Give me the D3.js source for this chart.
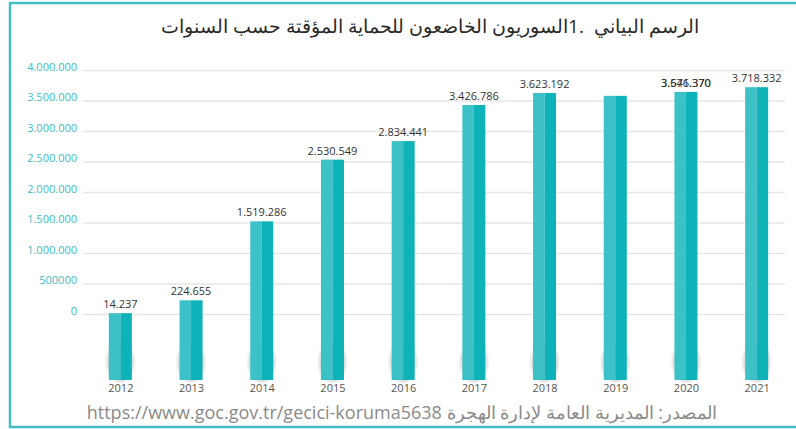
<!DOCTYPE html>
<html>
<head>
<meta charset="utf-8">
<script src="https://cdn.jsdelivr.net/npm/d3@7"></script>
<style>
  body { margin: 0; background: #fff; }
  svg { display: block; font-family: 'Open Sans', sans-serif; }
</style>
</head>
<body>
<div id="chart-area"></div>
<script>
var years = ['2012', '2013', '2014', '2015', '2016', '2017', '2018', '2019', '2020', '2021']
var values = [14237, 224655, 1519286, 2530549, 2834441, 3426786, 3623192, 3576370, 3641370, 3718332]
var valueLabels = ['14.237', '224.655', '1.519.286', '2.530.549', '2.834.441', '3.426.786', '3.623.192', '3.576.370', '3.641.370', '3.718.332']
// the 2019 label sits on top of the 2020 one in the source picture
var labelAnchor = ['2012', '2013', '2014', '2015', '2016', '2017', '2018', '2020', '2020', '2021']
var yTicks = [0, 500000, 1000000, 1500000, 2000000, 2500000, 3000000, 3500000, 4000000]
var yTickLabels = ['0', '500000', '1.000.000', '1.500.000', '2.000.000', '2.500.000', '3.000.000', '3.500.000', '4.000.000']

var title = 'الرسم البياني  .1السوريون الخاضعون للحماية المؤقتة حسب السنوات'
var source = 'المصدر: المديرية العامة لإدارة الهجرة https://www.goc.gov.tr/gecici-koruma5638'

var W = 796, H = 429
var barW = 23
var barBottom = 380

var svg = d3.select('#chart-area').append('svg')
    .attr('width', W)
    .attr('height', H)

var defs = svg.append('defs')
defs.append('filter').attr('id', 'blur')
    .attr('x', '-50%').attr('y', '-50%').attr('width', '200%').attr('height', '200%')
  .append('feGaussianBlur').attr('stdDeviation', 1.8)

// frame
svg.append('rect')
    .attr('x', 10).attr('y', 3)
    .attr('width', W + 20).attr('height', 424)
    .attr('fill', 'none')
    .attr('stroke', '#45bec3')
    .attr('stroke-width', 2.5)

var x = d3.scalePoint().domain(years).range([85, 792]).padding(0.5)
var y = d3.scaleLinear().domain([0, 4000000]).range([314, 70])

// grid + y labels
var yAxis = d3.axisLeft(y).tickValues(yTicks).tickSize(-(785 - 83)).tickFormat((d, i) => yTickLabels[i])
var yAxisGroup = svg.append('g').attr('transform', 'translate(83, 0)').call(yAxis)
yAxisGroup.select('.domain').remove()
yAxisGroup.selectAll('.tick line').attr('stroke', '#e6e6e6').attr('stroke-width', 1.5)
yAxisGroup.selectAll('.tick text')
    .attr('x', -6).attr('dy', 0)
    .attr('fill', '#3dbcc6')
    .attr('font-size', '11px')
    .attr('font-family', "'Open Sans', sans-serif")

// title
svg.append('text')
    .attr('x', 430).attr('y', 33)
    .attr('text-anchor', 'middle')
    .attr('direction', 'rtl')
    .attr('font-size', '19px')
    .attr('fill', '#2a2a2a')
    .style('white-space', 'pre')
    .text(title)

var bars = svg.append('g').selectAll('g').data(years).enter().append('g')

// soft shadow at the foot of each bar
bars.append('ellipse')
    .attr('cx', d => x(d))
    .attr('cy', barBottom - 18)
    .attr('rx', barW / 2 + 2)
    .attr('ry', 20)
    .attr('fill', '#555')
    .attr('opacity', 0.25)
    .attr('filter', 'url(#blur)')

bars.append('rect')
    .attr('x', d => x(d) - barW / 2)
    .attr('y', (d, i) => y(values[i]))
    .attr('width', barW / 2)
    .attr('height', (d, i) => barBottom - y(values[i]))
    .attr('fill', '#3cc1c6')

bars.append('rect')
    .attr('x', d => x(d))
    .attr('y', (d, i) => y(values[i]))
    .attr('width', barW / 2)
    .attr('height', (d, i) => barBottom - y(values[i]))
    .attr('fill', '#0db3b8')

// value labels
svg.append('g').selectAll('text').data(valueLabels).enter().append('text')
    .attr('x', (d, i) => x(labelAnchor[i]))
    .attr('y', (d, i) => y(values[years.indexOf(labelAnchor[i])]) - 5)
    .attr('text-anchor', 'middle')
    .attr('font-size', '11px')
    .attr('fill', '#333')
    .text(d => d)

// year labels
var xAxis = d3.axisBottom(x).tickSize(0)
var xAxisGroup = svg.append('g').attr('transform', `translate(0, ${barBottom})`).call(xAxis)
xAxisGroup.select('.domain').remove()
xAxisGroup.selectAll('.tick text')
    .attr('y', 4).attr('dy', '0.71em')
    .attr('fill', '#555')
    .attr('font-size', '11px')
    .attr('font-family', "'Open Sans', sans-serif")

// source
svg.append('text')
    .attr('x', 717).attr('y', 419)
    .attr('text-anchor', 'start')
    .attr('direction', 'rtl')
    .attr('font-size', '18px')
    .attr('fill', '#8a8a8a')
    .text(source)
</script>
</body>
</html>
